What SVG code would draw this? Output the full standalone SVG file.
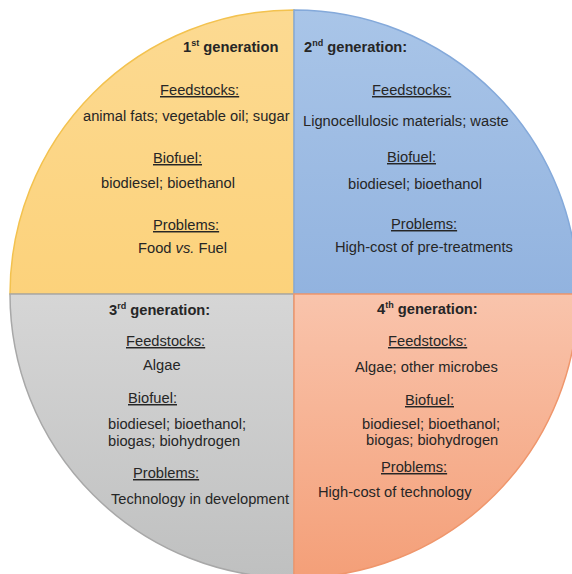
<svg xmlns="http://www.w3.org/2000/svg" width="572" height="574" viewBox="0 0 572 574">
<defs>
<linearGradient id="gY" x1="0" y1="0" x2="0" y2="1"><stop offset="0" stop-color="#FCDA92"/><stop offset="1" stop-color="#FCD27B"/></linearGradient>
<linearGradient id="gB" x1="0" y1="0" x2="0" y2="1"><stop offset="0" stop-color="#A9C5E8"/><stop offset="1" stop-color="#92B3DF"/></linearGradient>
<linearGradient id="gG" x1="0" y1="0" x2="0" y2="1"><stop offset="0" stop-color="#D6D6D6"/><stop offset="1" stop-color="#BFC0C0"/></linearGradient>
<linearGradient id="gS" x1="0" y1="0" x2="0" y2="1"><stop offset="0" stop-color="#F9C4AC"/><stop offset="1" stop-color="#F49F78"/></linearGradient>
</defs>
<style>
text{font-family:"Liberation Sans",Arial,sans-serif;font-size:14.7px;fill:#262626}
.t{font-weight:bold}
.h{text-decoration:underline}
.sup{font-size:9px}
</style>
<rect width="572" height="574" fill="#ffffff"/>
<g id="q1">
<path d="M294,294 L10,294 A284,284 0 0 1 294,10 Z" fill="url(#gY)" stroke="#F3C24F" stroke-width="1.5"/>
<text class="t" x="183" y="52">1<tspan class="sup" dy="-6">st</tspan><tspan dy="6"> generation</tspan></text>
<text class="h" x="160" y="95">Feedstocks:</text>
<text x="83" y="121">animal fats; vegetable oil; sugar</text>
<text class="h" x="153" y="163">Biofuel:</text>
<text x="101" y="188">biodiesel; bioethanol</text>
<text class="h" x="153" y="230">Problems:</text>
<text x="138" y="253">Food <tspan font-style="italic">vs.</tspan> Fuel</text>
</g>
<g id="q2">
<path d="M294,294 L294,10 A284,284 0 0 1 578,294 Z" fill="url(#gB)" stroke="#84A9DA" stroke-width="1.5"/>
<text class="t" x="304" y="52">2<tspan class="sup" dy="-6">nd</tspan><tspan dy="6"> generation:</tspan></text>
<text class="h" x="372" y="95">Feedstocks:</text>
<text x="303" y="126">Lignocellulosic materials; waste</text>
<text class="h" x="387" y="162">Biofuel:</text>
<text x="348" y="189">biodiesel; bioethanol</text>
<text class="h" x="391" y="229">Problems:</text>
<text x="335" y="252">High-cost of pre-treatments</text>
</g>
<g id="q3">
<path d="M294,294 L294,578 A284,284 0 0 1 10,294 Z" fill="url(#gG)" stroke="#A8A8A8" stroke-width="1.5"/>
<text class="t" x="109" y="315">3<tspan class="sup" dy="-6">rd</tspan><tspan dy="6"> generation:</tspan></text>
<text class="h" x="126" y="346">Feedstocks:</text>
<text x="143" y="370">Algae</text>
<text class="h" x="128" y="403">Biofuel:</text>
<text x="108" y="429">biodiesel; bioethanol;</text>
<text x="108" y="446">biogas; biohydrogen</text>
<text class="h" x="133" y="478">Problems:</text>
<text x="111" y="504">Technology in development</text>
</g>
<g id="q4">
<path d="M294,294 L578,294 A284,284 0 0 1 294,578 Z" fill="url(#gS)" stroke="#EF966C" stroke-width="1.5"/>
<text class="t" x="377" y="314">4<tspan class="sup" dy="-6">th</tspan><tspan dy="6"> generation:</tspan></text>
<text class="h" x="388" y="346">Feedstocks:</text>
<text x="355" y="372">Algae; other microbes</text>
<text class="h" x="405" y="405">Biofuel:</text>
<text x="362" y="429">biodiesel; bioethanol;</text>
<text x="366" y="445">biogas; biohydrogen</text>
<text class="h" x="381" y="472">Problems:</text>
<text x="318" y="497">High-cost of technology</text>
</g>
<g id="connectors"></g>
</svg>
